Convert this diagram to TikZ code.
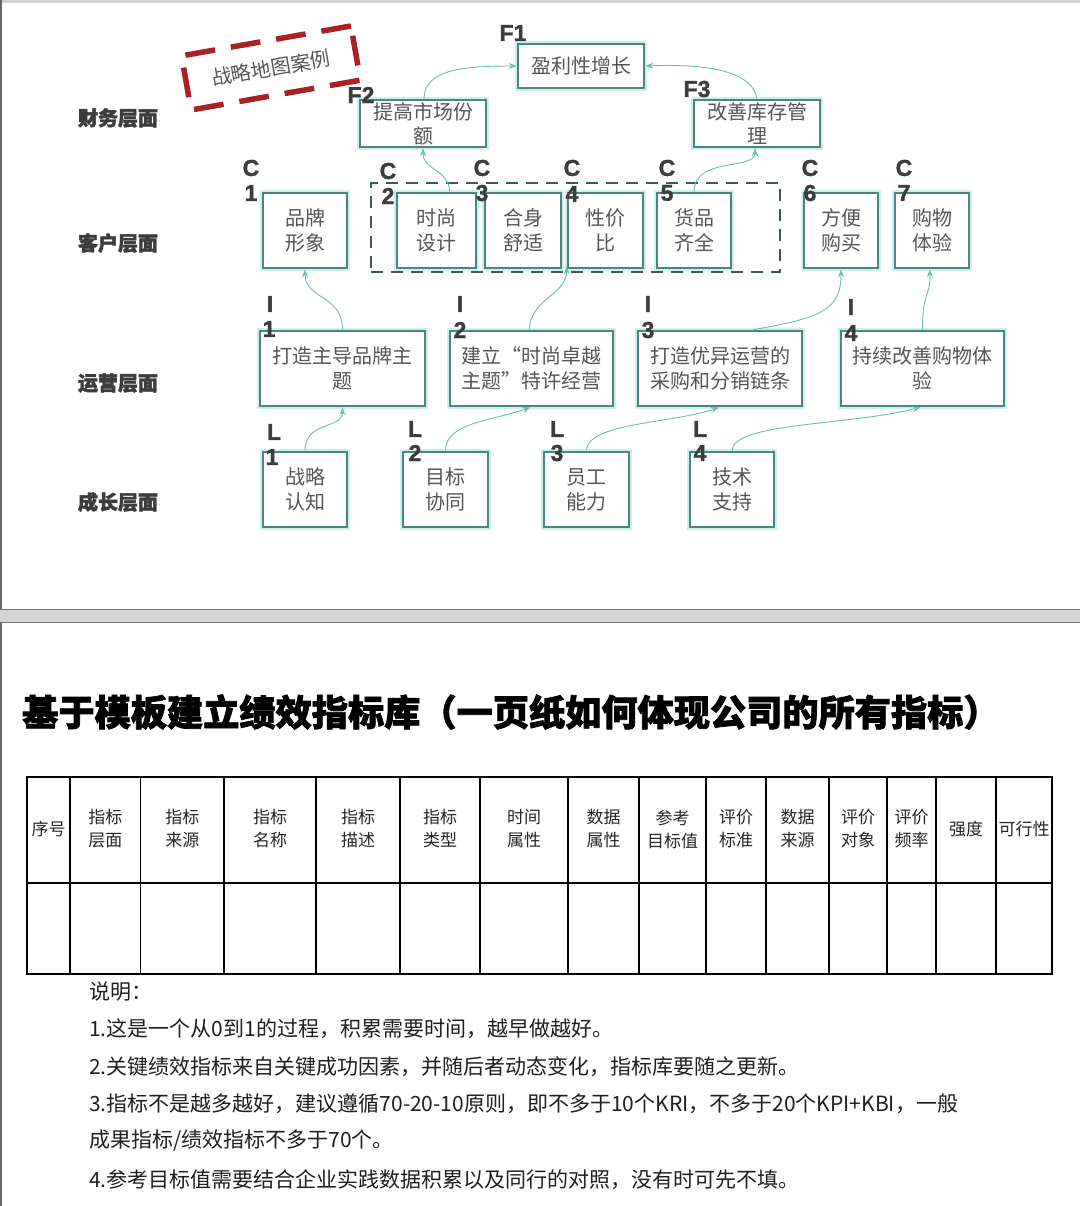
\documentclass[tikz,border=0pt]{standalone}
\usepackage{fontspec}
\setmainfont{Noto Sans CJK SC}
\newfontfamily\heavycjk{Noto Sans CJK SC}[BoldFeatures={FakeBold=2}]
\newfontfamily\latb{Liberation Sans}[BoldFeatures={FakeBold=1.5}]
\usetikzlibrary{arrows.meta}
\definecolor{boxc}{RGB}{74,134,128}
\definecolor{glowc}{RGB}{205,240,235}
\definecolor{arrc}{RGB}{100,192,180}
\definecolor{txtc}{RGB}{85,85,85}
\definecolor{labc}{RGB}{60,60,60}
\definecolor{redc}{RGB}{168,32,40}
\definecolor{grpc}{RGB}{60,88,88}
\definecolor{bandc}{RGB}{212,212,212}
\tikzset{
  sbox/.style={draw=boxc, line width=2.6pt, fill=white, preaction={draw=glowc, line width=6pt},
    text=txtc, font=\fontsize{20}{25}\selectfont, align=center, inner sep=1pt},
  lab/.style={text=labc, font=\latb\bfseries\fontsize{23}{23}\selectfont, inner sep=0pt},
  rowlab/.style={text=labc, font=\heavycjk\bfseries\fontsize{20}{24}\selectfont, inner sep=0pt},
  conn/.style={draw=arrc, line width=0.9pt, -{Stealth[length=8pt,width=6pt]}},
  hd/.style={font=\fontsize{17}{23}\selectfont, align=center, inner sep=0pt, text=black!85},
  note/.style={font=\fontsize{21}{24}\selectfont, anchor=west, inner sep=0pt, text=black!88}
}
\begin{document}
\begin{tikzpicture}[x=1pt,y=-1pt]
\useasboundingbox (0,0) rectangle (1080,1206);
\fill[white] (0,0) rectangle (1080,1206);
% frame
\fill[black!18] (0,0) rectangle (1080,3);
\draw[black!60, line width=1.5pt] (1,0) -- (1,609);
\fill[bandc] (0,609) rectangle (1080,622);
\draw[black!55, line width=1pt] (0,609) -- (1080,609);
\draw[black!55, line width=1pt] (0,622) -- (1080,622);
\draw[black!60, line width=1.5pt] (1,622) -- (1,1206);

% red dashed title box
\node[draw=redc, line width=5.5pt, dash pattern=on 30pt off 16pt, minimum width=172pt, minimum height=55pt,
  rotate=10, text=txtc, font=\fontsize{20}{24}\selectfont] (case) at (271,68) {战略地图案例};

% row labels
\node[rowlab] (r1) at (118,118) {财务层面};
\node[rowlab] (r2) at (118,243) {客户层面};
\node[rowlab] (r3) at (118,383) {运营层面};
\node[rowlab] (r4) at (118,502) {成长层面};

% group dashed box
\node[draw=grpc, line width=2.6pt, dash pattern=on 12pt off 8pt, minimum width=409pt, minimum height=89pt, inner sep=0pt] (grp) at (575.5,227.5) {};

% financial
\node[sbox, minimum width=126pt, minimum height=44pt] (f1) at (581,66) {盈利性增长};
\node[sbox, minimum width=126pt, minimum height=47pt] (f2) at (423,123.5) {提高市场份\\[-1pt]额};
\node[sbox, minimum width=126pt, minimum height=47pt] (f3) at (757,123.5) {改善库存管\\[-1pt]理};
% customer
\node[sbox, minimum width=84pt, minimum height=75pt] (c1) at (305,230.5) {品牌\\形象};
\node[sbox, minimum width=79pt, minimum height=75pt] (c2) at (436.5,230.5) {时尚\\设计};
\node[sbox, minimum width=76pt, minimum height=75pt] (c3) at (523,230.5) {合身\\舒适};
\node[sbox, minimum width=75pt, minimum height=75pt] (c4) at (605.5,230.5) {性价\\比};
\node[sbox, minimum width=74pt, minimum height=75pt] (c5) at (694,230.5) {货品\\齐全};
\node[sbox, minimum width=74pt, minimum height=75pt] (c6) at (841,230.5) {方便\\购买};
\node[sbox, minimum width=74pt, minimum height=75pt] (c7) at (932,230.5) {购物\\体验};
% operations
\node[sbox, minimum width=165pt, minimum height=75pt] (i1) at (342.5,368.5) {打造主导品牌主\\题};
\node[sbox, minimum width=163pt, minimum height=75pt] (i2) at (531.5,368.5) {建立“时尚卓越\\主题”特许经营};
\node[sbox, minimum width=164pt, minimum height=75pt] (i3) at (720,368.5) {打造优异运营的\\采购和分销链条};
\node[sbox, minimum width=163pt, minimum height=75pt] (i4) at (922.5,368.5) {持续改善购物体\\验};
% learning
\node[sbox, minimum width=84pt, minimum height=75pt] (l1) at (305,489.5) {战略\\认知};
\node[sbox, minimum width=85pt, minimum height=75pt] (l2) at (445.5,489.5) {目标\\协同};
\node[sbox, minimum width=85pt, minimum height=75pt] (l3) at (586.5,489.5) {员工\\能力};
\node[sbox, minimum width=84pt, minimum height=75pt] (l4) at (732,489.5) {技术\\支持};

% code labels
\node[lab] (lf1) at (513,33) {F1};
\node[lab] (lf2) at (361,95) {F2};
\node[lab] (lf3) at (697,89) {F3};
\node[lab] (lc1a) at (251,168) {C}; \node[lab] (lc1b) at (251,193) {1};
\node[lab] (lc2a) at (388,171) {C}; \node[lab] (lc2b) at (388,196) {2};
\node[lab] (lc3a) at (482,168) {C}; \node[lab] (lc3b) at (482,193) {3};
\node[lab] (lc4a) at (572,168) {C}; \node[lab] (lc4b) at (572,194) {4};
\node[lab] (lc5a) at (667,168) {C}; \node[lab] (lc5b) at (667,193) {5};
\node[lab] (lc6a) at (810,168) {C}; \node[lab] (lc6b) at (810,193) {6};
\node[lab] (lc7a) at (904,168) {C}; \node[lab] (lc7b) at (904,193) {7};
\node[lab] (li1a) at (270,304) {I}; \node[lab] (li1b) at (269,329) {1};
\node[lab] (li2a) at (460,304) {I}; \node[lab] (li2b) at (460,330) {2};
\node[lab] (li3a) at (648,304) {I}; \node[lab] (li3b) at (648,330) {3};
\node[lab] (li4a) at (851,307) {I}; \node[lab] (li4b) at (851,333) {4};
\node[lab] (ll1a) at (274,432) {L}; \node[lab] (ll1b) at (272,457) {1};
\node[lab] (ll2a) at (415,429) {L}; \node[lab] (ll2b) at (415,453) {2};
\node[lab] (ll3a) at (557,429) {L}; \node[lab] (ll3b) at (557,453) {3};
\node[lab] (ll4a) at (700,429) {L}; \node[lab] (ll4b) at (700,453) {4};

% connectors
\draw[conn] ([xshift=1pt]f2.north) .. controls +(0,-30) and +(-50,0) .. (f1.west);
\draw[conn] (f3.north) .. controls +(-5,-30) and +(55,-2) .. (f1.east);
\draw[conn] ([xshift=13pt]c2.north) .. controls +(0,-22) and +(0,22) .. (f2.south);
\draw[conn] (c5.north) .. controls +(0,-35) and +(0,22) .. ([xshift=-2pt]f3.south);
\draw[conn] (i1.north) .. controls +(0,-35) and +(0,30) .. (c1.south);
\draw[conn] ([xshift=-2pt]i2.north) .. controls +(0,-30) and +(0,28) .. ([yshift=3pt]c4.south west);
\draw[conn] ([xshift=33pt]i3.north) .. controls +(70,-12) and +(0,40) .. (c6.south);
\draw[conn] (i4.north) .. controls +(0,-40) and +(0,30) .. ([xshift=-2pt]c7.south);
\draw[conn] (l1.north) .. controls +(0,-30) and +(0,22) .. (i1.south);
\draw[conn] (l2.north) .. controls +(0,-28) and +(-40,14) .. ([xshift=-1pt]i2.south);
\draw[conn] (l3.north) .. controls +(0,-28) and +(-45,16) .. ([xshift=-1pt]i3.south);
\draw[conn] (l4.north) .. controls +(0,-28) and +(-70,18) .. ([xshift=-2pt]i4.south);

% bottom title
\node[anchor=west, inner sep=0pt, font=\heavycjk\bfseries\fontsize{36.2}{40}\selectfont, text=black] (title) at (22,712)
  {基于模板建立绩效指标库（一页纸如何体现公司的所有指标）};

% table
\draw[black, line width=1.2pt] (27,777) rectangle (1052,974);
\draw[black, line width=1.1pt] (27,883) -- (1052,883);
\foreach \xx in {70,140.5,224,316,400,480,568,639,706,766,829,887,936,996}
  \draw[black, line width=1.1pt] (\xx,777) -- (\xx,974);
\foreach \a/\b/\t [count=\i] in {27/70/{序号}, 70/140.5/{指标\\层面}, 140.5/224/{指标\\来源}, 224/316/{指标\\名称},
  316/400/{指标\\描述}, 400/480/{指标\\类型}, 480/568/{时间\\属性}, 568/639/{数据\\属性}, 639/706/{参考\\目标值},
  706/766/{评价\\标准}, 766/829/{数据\\来源}, 829/887/{评价\\对象}, 887/936/{评价\\频率}, 936/996/{强度}, 996/1052/{可行性}}
  \node[hd] (h\i) at ({(\a+\b)/2},829) {\t};

% notes
\node[note] (n0) at (89,992) {说明：};
\node[note] (n1) at (89,1029) {1.这是一个从0到1的过程，积累需要时间，越早做越好。};
\node[note] (n2) at (89,1067) {2.关键绩效指标来自关键成功因素，并随后者动态变化，指标库要随之更新。};
\node[note] (n3) at (89,1104) {3.指标不是越多越好，建议遵循70-20-10原则，即不多于10个KRI，不多于20个KPI+KBI，一般};
\node[note] (n4) at (89,1141) {成果指标/绩效指标不多于70个。};
\node[note] (n5) at (89,1180) {4.参考目标值需要结合企业实践数据积累以及同行的对照，没有时可先不填。};
\end{tikzpicture}
\end{document}
